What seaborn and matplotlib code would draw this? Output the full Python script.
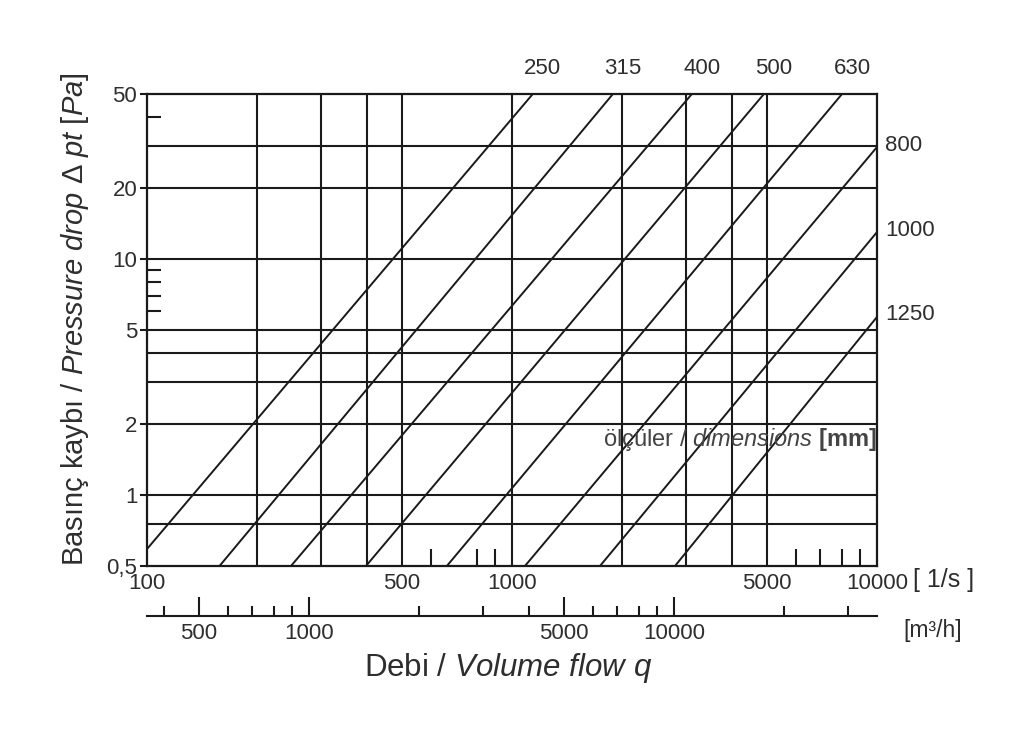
import pandas as pd
import matplotlib
matplotlib.use("Agg")
import matplotlib.pyplot as plt
import seaborn as sns
from matplotlib.ticker import NullFormatter

# -------------------------
# data
# -------------------------
# duct sizes [mm] and the two ends of each pressure drop line
sizes = ["250", "315", "400", "500", "630", "800", "1000", "1250"]
q_start = [100, 158, 248, 398, 663, 1085, 1742, 2796]      # l/s
dp_start = [0.59, 0.5, 0.5, 0.5, 0.5, 0.5, 0.5, 0.5]       # Pa
q_end = [1140, 1890, 3110, 4900, 8020, 10000, 10000, 10000]
dp_end = [50, 50, 50, 50, 50, 29.8, 13.0, 5.68]

x_grid = [200, 300, 400, 500, 1000, 2000, 3000, 4000, 5000]
y_grid = [0.75, 1, 2, 3, 4, 5, 10, 20, 30]

x_ticks = [100, 500, 1000, 5000, 10000]
x_labels = ["100", "500", "1000", "5000", "10000"]
x_minor = [600, 800, 900, 6000, 7000, 8000, 9000]

y_ticks = [0.5, 1, 2, 5, 10, 20, 50]
y_labels = ["0,5", "1", "2", "5", "10", "20", "50"]
y_minor = [6, 7, 8, 9, 40]

m3h_ticks = [500, 1000, 5000, 10000]
m3h_labels = ["500", "1000", "5000", "10000"]
m3h_minor = [400, 600, 700, 800, 900, 2000, 3000, 4000,
             6000, 7000, 8000, 9000, 20000, 30000]

# -------------------------
# style
# -------------------------
sns.set_theme(style="ticks")
plt.rcParams["font.family"] = ["Liberation Sans", "DejaVu Sans"]
plt.rcParams["mathtext.fontset"] = "custom"
plt.rcParams["mathtext.rm"] = "Liberation Sans"
plt.rcParams["mathtext.it"] = "Liberation Sans:italic"
plt.rcParams["mathtext.bf"] = "Liberation Sans:bold"

ink = "#1a1a1a"
txt = "#2e2e2e"

rows = []
for s, q0, p0, q1, p1 in zip(sizes, q_start, dp_start, q_end, dp_end):
    rows.append({"size": s, "q": q0, "dp": p0})
    rows.append({"size": s, "q": q1, "dp": p1})
lines = pd.DataFrame(rows)

fig = plt.figure(figsize=(10.24, 7.44), dpi=100)
ax = fig.add_axes([147 / 1024, 178 / 744, 730 / 1024, 472 / 744])
ax.set_xscale("log")
ax.set_yscale("log")
ax.set_xlim(100, 10000)
ax.set_ylim(0.5, 50)

# grid
for xv in x_grid:
    ax.axvline(xv, color=ink, lw=1.5, zorder=1)
for yv in y_grid:
    ax.axhline(yv, color=ink, lw=1.5, zorder=1)

# pressure drop lines
sns.lineplot(data=lines, x="q", y="dp", units="size", estimator=None,
             sort=False, color=ink, lw=1.4, ax=ax, zorder=2)

for s, q1, p1 in zip(sizes, q_end, dp_end):
    if p1 >= 50:
        ax.annotate(s, (q1, p1), xytext=(10, 25), textcoords="offset pixels",
                    ha="center", va="center", fontsize=16, color=txt,
                    annotation_clip=False)
    else:
        ax.annotate(s, (q1, p1), xytext=(8, 2), textcoords="offset pixels",
                    ha="left", va="center", fontsize=16, color=txt,
                    annotation_clip=False)

# axes, ticks
for sp in ax.spines.values():
    sp.set_visible(True)
    sp.set_color(ink)
    sp.set_linewidth(1.6)

ax.set_xticks(x_ticks, labels=x_labels)
ax.set_xticks(x_minor, minor=True)
ax.set_yticks(y_ticks, labels=y_labels)
ax.set_yticks(y_minor, minor=True)
ax.xaxis.set_minor_formatter(NullFormatter())
ax.yaxis.set_minor_formatter(NullFormatter())

ax.tick_params(axis="x", which="major", length=0, pad=5, labelsize=16, labelcolor=txt)
ax.tick_params(axis="x", which="minor", direction="in", length=12, width=1.5, color=ink)
ax.tick_params(axis="y", which="major", direction="out", length=5, width=1.5,
               pad=2, labelsize=16, labelcolor=txt, color=ink)
ax.tick_params(axis="y", which="minor", direction="in", length=10, width=1.5, color=ink)

ax.set_xlabel(r"Debi / $\mathit{Volume\ flow\ q}$", fontsize=22.5, color=txt, va="center")
ax.xaxis.set_label_coords(0.495, -0.216)
ax.set_ylabel(r"Basınç kaybı / $\mathit{Pressure\ drop\ \Delta\ pt\ [Pa]}$",
              fontsize=21, color=txt, va="center")
ax.yaxis.set_label_coords(-0.099, 0.523)

ax.text(1.0, 0.269, r"ölçüler / $\mathit{dimensions}$ $\mathbf{[mm]}$",
        transform=ax.transAxes, ha="right", va="center", fontsize=17, color="#444444")

# second scale in m3/h
sec = ax.secondary_xaxis(-0.106, functions=(lambda q: q * 3.6, lambda m: m / 3.6))
sec.spines["bottom"].set_color(ink)
sec.spines["bottom"].set_linewidth(1.5)
sec.set_xticks(m3h_ticks, labels=m3h_labels)
sec.set_xticks(m3h_minor, minor=True)
sec.xaxis.set_minor_formatter(NullFormatter())
sec.tick_params(which="major", direction="in", length=14, width=1.5, pad=5,
                labelsize=16, labelcolor=txt, color=ink)
sec.tick_params(which="minor", direction="in", length=7, width=1.5, color=ink)

fig.text(944 / 1024, 1 - 580 / 744, "[ 1/s ]", ha="center", va="center",
         fontsize=18, color=txt)
fig.text(933 / 1024, 1 - 631 / 744, "[m³/h]", ha="center", va="center",
         fontsize=16.5, color=txt)

plt.savefig("out.png", dpi=100)
